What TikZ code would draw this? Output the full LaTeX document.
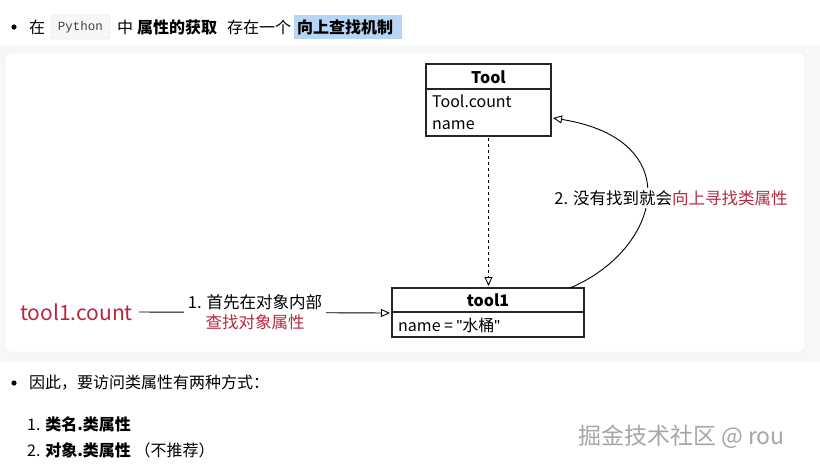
\documentclass[tikz,border=0pt]{standalone}
\usepackage{fontspec}
\setmainfont{Noto Sans CJK SC}
\newfontfamily\codefont{Liberation Mono}
\newfontfamily\lat{Liberation Sans}
\usetikzlibrary{arrows.meta}
\definecolor{redt}{HTML}{B8293F}
\definecolor{hl}{HTML}{B7D5F4}
\begin{document}
\begin{tikzpicture}[x=1pt,y=-1pt,
  txt/.style={inner sep=0pt,anchor=west,font=\fontsize{16}{19}\selectfont},
  box/.style={draw=black!85,line width=1.2pt,fill=white},
  boxt/.style={inner sep=0pt,font=\fontsize{16}{19}\selectfont},
  tri/.style={-{Triangle[open,length=9pt,width=8pt]}},
  lab/.style={fill=white,inner sep=2pt,font=\fontsize{16.5}{20}\selectfont,align=center}]
\useasboundingbox[fill=white] (0,0) rectangle (820,467);
\fill[black!3] (0,45) rectangle (820,362);
\draw[black!10,fill=white,rounded corners=4pt] (5,53) rectangle (805,352);
% top line
\fill (14,27) circle (2.6);
\node[txt] (t1) at (29,27) {在};
\draw[black!15,fill=black!3,rounded corners=3pt] (51,15) rectangle (110,39);
\node[inner sep=0pt,font=\codefont\fontsize{12.5}{14}\selectfont,text=black!75] (py) at (80.5,27) {Python};
\node[txt] (t2) at (117,27) {中};
\node[txt] (t3) at (137,27) {\textbf{属性的获取}};
\node[txt] (t4) at (227,27) {存在一个};
\fill[hl] (294,15) rectangle (402,39);
\node[txt] (t5) at (297,27) {\textbf{向上查找机制}};
% Tool box
\draw[box] (426,64) rectangle (551,136);
\draw[line width=1.2pt,black!85] (426,89) -- (551,89);
\node[boxt] (Tool) at (488.5,77) {\textbf{Tool}};
\node[boxt,anchor=west] (tc) at (432,101) {Tool.count};
\node[boxt,anchor=west] (tn) at (432,125) {name};
\coordinate (Tb) at (488.5,138);
\coordinate (Te) at (553,118);
% tool1 box
\draw[box] (392,288) rectangle (584,337);
\draw[line width=1.2pt,black!85] (392,312) -- (584,312);
\node[boxt] (tool1) at (488,300) {\textbf{tool1}};
\node[boxt,anchor=west] (n1) at (398,325) {name = {\lat"}水桶{\lat"}};
\coordinate (t1t) at (488.5,286);
\coordinate (t1w) at (390,313);
\coordinate (t1c) at (570,288);
% arrows
\draw[tri,dashed,line width=0.9pt] (Tb) -- (t1t);
\draw[tri,line width=0.9pt] (t1c) .. controls (660,250) and (690,140) .. (Te);
\node[lab] (l2) at (671,198) {2. 没有找到就会\textcolor{redt}{向上寻找类属性}};
\node[inner sep=0pt,anchor=west,text=redt,font=\fontsize{21}{24}\selectfont] (tc1) at (20,312) {tool1.count};
\draw[tri,line width=0.9pt] (tc1.east)++(6,0) -- (t1w);
\node[lab,fill=white,inner sep=4pt] (l1) at (255,312) {1. 首先在对象内部\\\textcolor{redt}{查找对象属性}};
% bottom
\fill (14,383) circle (2.6);
\node[txt] (b1) at (29,383) {因此，要访问类属性有两种方式：};
\node[txt] (b2) at (27,424) {1. \textbf{类名.类属性}};
\node[txt] (b3) at (27,450) {2. \textbf{对象.类属性} （不推荐）};
\node[inner sep=0pt,anchor=west,text=black!35,font=\fontsize{23}{26}\selectfont] (wm) at (578,437) {掘金技术社区 @ rou};
\end{tikzpicture}
\end{document}
